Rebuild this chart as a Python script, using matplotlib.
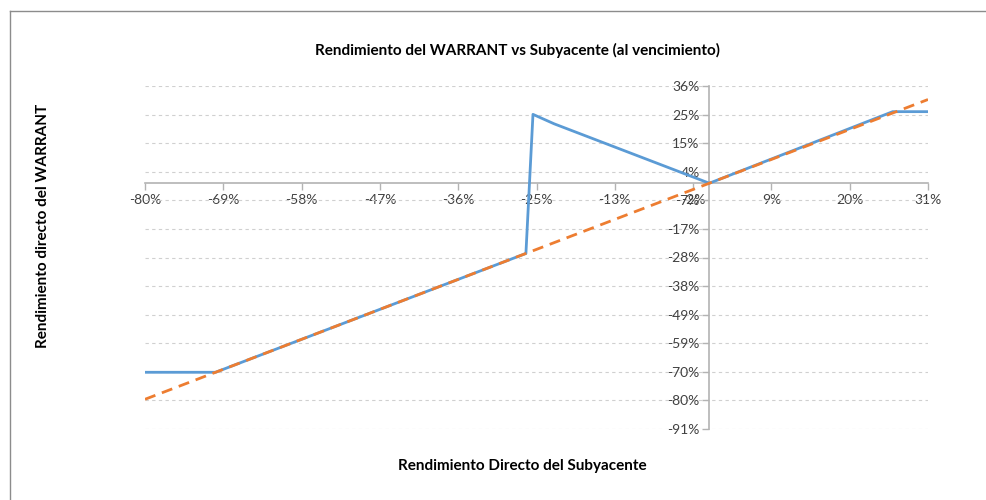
import numpy as np
import matplotlib
matplotlib.use("Agg")
import matplotlib.pyplot as plt
from matplotlib.lines import Line2D

# rendimiento del subyacente / warrant (puntos de quiebre)
warrant_x = [-0.80, -0.70, -0.26, -0.25, -0.22, -0.16, 0.00, 0.26, 0.31]
warrant_y = [-0.70, -0.70, -0.26, 0.255, 0.22, 0.16, 0.00, 0.265, 0.265]
sub_x = [-0.80, 0.31]
sub_y = [-0.80, 0.31]

x_ticks = np.linspace(-0.80, 0.31, 11)
x_labels = ["-80%", "-69%", "-58%", "-47%", "-36%", "-25%", "-13%", "-2%", "9%", "20%", "31%"]
y_ticks = np.linspace(-0.91, 0.36, 13)
y_labels = ["-91%", "-80%", "-70%", "-59%", "-49%", "-38%", "-28%", "-17%", "-7%",
            "4%", "15%", "25%", "36%"]

plt.rcParams["font.family"] = ["Lato", "DejaVu Sans"]

fig = plt.figure(figsize=(9.87, 5.0), dpi=100)
# borde del area del grafico (solo se ve arriba y a la izquierda)
bx, by = 9.5 / 987, 1 - 10.5 / 500
fig.add_artist(Line2D([bx, 1.0], [by, by], transform=fig.transFigure,
                      color="#8c8c8c", linewidth=1.0))
fig.add_artist(Line2D([bx, bx], [0.0, by], transform=fig.transFigure,
                      color="#8c8c8c", linewidth=1.0))

ax = fig.add_axes([145 / 987, 1 - 429 / 500, 783 / 987, 343 / 500])
ax.plot(warrant_x, warrant_y, color="#5B9BD5", linewidth=2.0, zorder=3)
ax.plot(sub_x, sub_y, color="#ED7D31", linewidth=2.0, dashes=(4, 2.5), zorder=4)

ax.set_xlim(-0.80, 0.31)
ax.set_ylim(-0.91, 0.36)
ax.set_xticks(x_ticks)
ax.set_xticklabels(x_labels)
ax.set_yticks(y_ticks)
ax.set_yticklabels(y_labels)

for s in ["top", "right"]:
    ax.spines[s].set_visible(False)
ax.spines["left"].set_position(("data", 0))
ax.spines["bottom"].set_position(("data", 0))
for s in ["left", "bottom"]:
    ax.spines[s].set_color("#b3b3b3")
    ax.spines[s].set_linewidth(1.2)
ax.tick_params(axis="both", colors="#b3b3b3", labelcolor="#404040",
               labelsize=10, length=5, width=1.0, direction="out")
ax.tick_params(axis="x", pad=3)
ax.tick_params(axis="y", pad=2)

ax.yaxis.grid(True, color="#d0d0d0", linestyle=(0, (3, 3)), linewidth=0.8)
ax.set_axisbelow(True)

fig.text(518 / 987, 1 - 50 / 500, "Rendimiento del WARRANT vs Subyacente (al vencimiento)",
         ha="center", va="center", fontsize=11, fontweight="bold")
fig.text(522 / 987, 1 - 466 / 500, "Rendimiento Directo del Subyacente",
         ha="center", va="center", fontsize=11, fontweight="bold")
fig.text(43 / 987, 1 - 226 / 500, "Rendimiento directo del WARRANT",
         ha="center", va="center", rotation=90, fontsize=11, fontweight="bold")

fig.savefig("out.png", dpi=100)
